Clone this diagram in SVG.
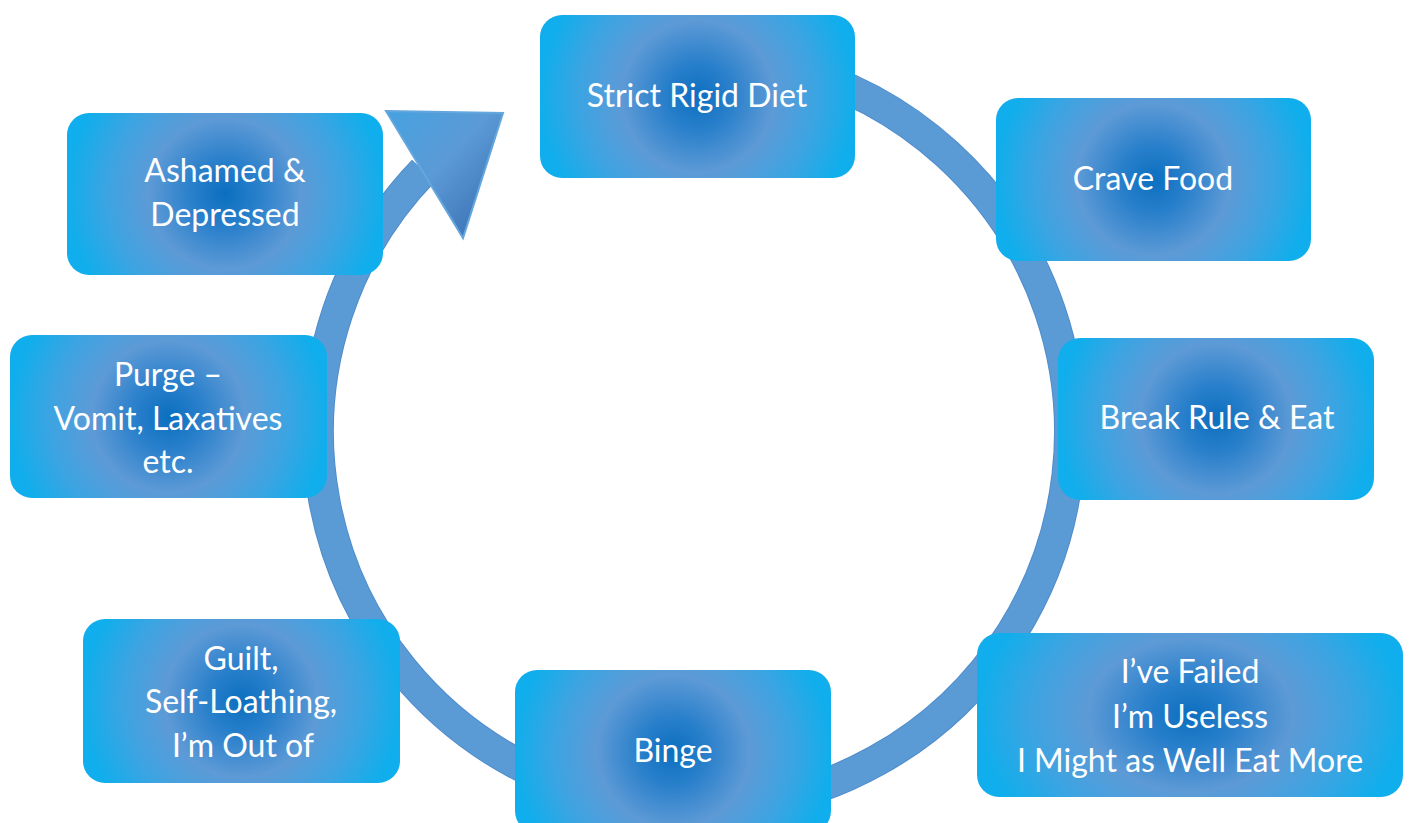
<svg xmlns="http://www.w3.org/2000/svg" width="1410" height="823" viewBox="0 0 1410 823">
<defs>
<radialGradient id="boxg" cx="0.5" cy="0.5" r="0.5" gradientTransform="translate(0.5,0.5) scale(1,1.94) translate(-0.5,-0.5)">
<stop offset="0" stop-color="#0b6fc0"/>
<stop offset="0.22" stop-color="#2a80cb"/>
<stop offset="0.48" stop-color="#5d9ad6"/>
<stop offset="0.75" stop-color="#3ca4e2"/>
<stop offset="1" stop-color="#10aeec"/>
</radialGradient>
<linearGradient id="headg" x1="0" y1="0" x2="1" y2="1">
<stop offset="0" stop-color="#45a2e0"/>
<stop offset="0.45" stop-color="#5b9ad6"/>
<stop offset="1" stop-color="#3568ac"/>
</linearGradient>
<style>
.box{fill:url(#boxg);}
.t{font-family:Lato,"Noto Sans","Liberation Sans",sans-serif;font-size:32px;fill:#ffffff;text-anchor:middle;}
.ring{fill:none;stroke:#5b9bd5;stroke-width:30;}
.ringedge{fill:none;stroke:#4f8ccb;stroke-width:32;}
</style>
</defs>
<g id="connectors">
<path class="ringedge" d="M 423.5 170.8 A 376 376 0 1 0 615.8 64.2"/>
<path class="ring" d="M 423.5 170.8 A 376 376 0 1 0 615.8 64.2"/>
<polygon points="386,111 503,113 463,238" fill="url(#headg)" stroke="#64a6de" stroke-width="2"/>
</g>
<g id="node-strict">
<rect class="box" x="540" y="15" width="315" height="163" rx="22"/>
<text class="t" x="697" y="107">Strict Rigid Diet</text>
</g>
<g id="node-crave">
<rect class="box" x="996" y="98" width="315" height="163" rx="22"/>
<text class="t" x="1153" y="190">Crave Food</text>
</g>
<g id="node-break">
<rect class="box" x="1058" y="338" width="316" height="162" rx="22"/>
<text class="t" x="1217" y="429">Break Rule &amp; Eat</text>
</g>
<g id="node-failed">
<rect class="box" x="977" y="633" width="426" height="164" rx="22"/>
<text class="t" x="1190" y="683">I’ve Failed</text>
<text class="t" x="1190" y="728">I’m Useless</text>
<text class="t" x="1190" y="772">I Might as Well Eat More</text>
</g>
<g id="node-binge">
<rect class="box" x="515" y="670" width="316" height="163" rx="22"/>
<text class="t" x="673" y="762">Binge</text>
</g>
<g id="node-guilt">
<rect class="box" x="83" y="619" width="317" height="164" rx="22"/>
<text class="t" x="241" y="670">Guilt,</text>
<text class="t" x="241" y="713">Self-Loathing,</text>
<text class="t" x="243" y="757">I’m Out of</text>
</g>
<g id="node-purge">
<rect class="box" x="10" y="335" width="317" height="163" rx="22"/>
<text class="t" x="168" y="386">Purge –</text>
<text class="t" x="168" y="430">Vomit, Laxatives</text>
<text class="t" x="168" y="473">etc.</text>
</g>
<g id="node-ashamed">
<rect class="box" x="67" y="113" width="316" height="162" rx="22"/>
<text class="t" x="225" y="182">Ashamed &amp;</text>
<text class="t" x="225" y="226">Depressed</text>
</g>
</svg>
